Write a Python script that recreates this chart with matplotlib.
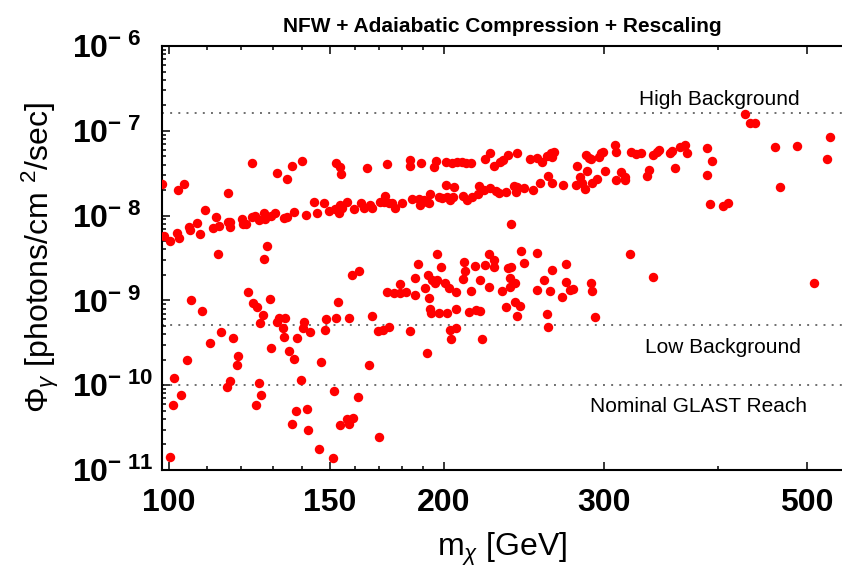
import matplotlib
matplotlib.use("Agg")
import matplotlib.pyplot as plt
from matplotlib.ticker import NullFormatter, LogLocator

plt.rcParams["font.family"] = ["Liberation Sans", "DejaVu Sans"]
plt.rcParams["mathtext.fontset"] = "custom"
plt.rcParams["mathtext.rm"] = "Liberation Sans"
plt.rcParams["mathtext.it"] = "Liberation Sans:italic"
plt.rcParams["mathtext.bf"] = "Liberation Sans:bold"

# ----------------------------
# Data: neutralino mass [GeV] and flux [photons/cm^2/sec]
# ----------------------------
# light models, upper branch + main band (m < 175 GeV)
m_light = [98.2, 102.2, 103.9, 116.0, 123.2, 131.4, 134.6, 136.2, 140.0, 152.4, 153.8, 154.3, 164.6, 173.5,
           98.6, 100.1, 102.0, 102.4, 105.0, 105.4, 107.3, 108.1, 109.5, 111.8, 112.6, 113.3, 115.9, 116.5,
           116.7, 120.1, 120.5, 121.5, 123.2, 124.2, 125.3, 126.9, 127.5, 129.3, 130.7, 133.5, 134.6, 137.1,
           141.3, 144.3, 145.2, 147.7, 149.6, 152.1, 153.4, 153.8, 154.7, 156.7, 159.3, 162.1, 163.4, 166.2,
           166.9, 170.4, 172.3, 174.0,
           113.2, 128.0, 127.1]
phi_light = [2.34e-8, 2.00e-8, 2.34e-8, 1.86e-8, 4.14e-8, 3.21e-8, 2.68e-8, 3.85e-8, 4.41e-8, 4.14e-8, 3.77e-8,
             3.10e-8, 3.61e-8, 4.09e-8,
             5.75e-9, 5.06e-9, 6.18e-9, 5.40e-9, 7.28e-9, 6.76e-9, 8.11e-9, 6.07e-9, 1.16e-8, 7.08e-9, 9.55e-9,
             7.54e-9, 8.34e-9, 7.40e-9, 8.48e-9, 9.04e-9, 7.96e-9, 7.89e-9, 9.55e-9, 9.89e-9, 8.87e-9, 1.06e-8,
             9.04e-9, 9.89e-9, 1.06e-8, 9.29e-9, 9.70e-9, 1.11e-8, 1.02e-8, 1.44e-8, 1.06e-8, 1.42e-8, 1.14e-8,
             1.19e-8, 1.06e-8, 1.33e-8, 1.22e-8, 1.46e-8, 1.19e-8, 1.40e-8, 1.22e-8, 1.33e-8, 1.22e-8, 1.46e-8,
             1.70e-8, 1.40e-8,
             3.52e-9, 4.42e-9, 3.05e-9]

# heavy models, upper branch + main band (m > 170 GeV)
m_heavy = [183.8, 183.5, 188.8, 196.3, 195.3, 201.2, 204.3, 206.9, 209.5, 211.8, 214.0, 222.2, 224.6, 226.9,
           230.3, 232.3, 235.0, 240.7, 248.5, 253.2, 256.4, 259.7, 261.9, 264.5, 263.0, 279.7, 286.1, 288.5,
           290.3, 295.9, 297.2, 299.2, 308.1, 308.7,
           171.8, 175.6, 177.0, 180.0, 184.6, 187.7, 188.5, 190.1, 191.8, 193.0, 192.6, 197.5, 199.2, 200.9,
           201.8, 203.4, 204.8, 205.5, 210.0, 212.2, 214.8, 217.9, 218.5, 221.3, 224.6, 228.4, 229.7, 234.3,
           238.7, 239.8, 240.7, 245.2, 250.4, 254.7, 260.1, 263.0, 270.4, 279.0, 282.0, 283.8, 285.4, 286.9,
           291.0, 294.2, 300.2, 308.7, 312.6, 237.2,
           315.8, 315.9, 321.2, 324.7, 329.4, 333.9, 335.8, 339.2, 342.9, 344.3, 353.7, 356.1, 358.2, 362.7,
           367.3, 369.9, 389.0, 393.9, 389.0, 391.6, 404.6, 410.2, 427.8, 432.9, 438.5, 461.2, 488.4, 467.1,
           530.0, 526.1, 509.1, 320.1, 338.8]
phi_heavy = [4.53e-8, 3.88e-8, 4.14e-8, 4.41e-8, 3.71e-8, 4.29e-8, 4.21e-8, 4.32e-8, 4.32e-8, 4.21e-8, 4.14e-8,
             4.69e-8, 5.43e-8, 3.88e-8, 4.32e-8, 4.53e-8, 5.19e-8, 5.52e-8, 4.65e-8, 4.74e-8, 4.32e-8, 5.04e-8,
             5.43e-8, 5.67e-8, 4.95e-8, 3.88e-8, 5.19e-8, 4.74e-8, 4.61e-8, 4.95e-8, 5.43e-8, 5.67e-8, 6.80e-8,
             5.67e-8,
             1.46e-8, 1.40e-8, 1.22e-8, 1.40e-8, 1.57e-8, 1.56e-8, 1.33e-8, 1.53e-8, 1.46e-8, 1.80e-8, 1.40e-8,
             1.67e-8, 1.60e-8, 2.30e-8, 1.67e-8, 1.53e-8, 1.67e-8, 2.16e-8, 1.72e-8, 1.53e-8, 1.64e-8, 1.78e-8,
             2.23e-8, 2.00e-8, 2.10e-8, 1.97e-8, 1.83e-8, 1.91e-8, 2.23e-8, 1.91e-8, 2.19e-8, 2.10e-8, 2.00e-8,
             2.40e-8, 2.93e-8, 2.40e-8, 2.30e-8, 2.28e-8, 2.88e-8, 2.40e-8, 2.04e-8, 3.39e-8, 2.44e-8, 2.68e-8,
             3.39e-8, 2.63e-8, 3.30e-8, 7.96e-9,
             2.83e-8, 2.63e-8, 5.67e-8, 5.32e-8, 5.43e-8, 2.93e-8, 3.45e-8, 5.19e-8, 5.67e-8, 5.94e-8, 5.43e-8,
             5.78e-8, 3.61e-8, 6.50e-8, 6.80e-8, 5.52e-8, 6.22e-8, 4.44e-8, 2.99e-8, 1.36e-8, 1.31e-8, 1.40e-8,
             1.58e-7, 1.23e-7, 1.23e-7, 6.44e-8, 6.62e-8, 2.19e-8, 8.51e-8, 4.69e-8, 1.60e-9, 3.52e-9, 1.89e-9]

# scattered low-flux cloud, 170-295 GeV
m_cloud = [171.6, 174.0, 183.5, 191.8, 173.4, 176.3, 178.9, 179.2, 181.8, 185.8, 185.8, 187.5, 190.6, 192.2,
           192.6, 193.0, 193.7, 194.1, 195.8, 196.6, 196.8, 198.5, 197.6, 200.5, 201.8, 202.5, 203.4, 203.9,
           206.5, 206.5, 206.5, 209.8, 210.7, 210.9, 213.4, 214.3, 216.7, 216.5, 219.0, 219.2, 220.5, 222.2,
           224.0, 224.4, 226.9, 227.3, 231.7, 233.9, 235.3, 236.6, 237.0, 236.6, 239.3, 239.5, 240.9, 242.3,
           243.3, 245.2, 252.9, 253.2, 257.4, 261.4, 263.0, 259.7, 260.3, 269.8, 272.5, 272.1, 275.0, 277.1,
           290.3, 291.0, 292.8]
phi_cloud = [4.48e-10, 4.82e-10, 4.36e-10, 2.38e-10, 1.27e-9, 1.23e-9, 1.21e-9, 1.56e-9, 1.27e-9, 1.16e-9,
             1.85e-9, 2.67e-9, 1.41e-9, 2.00e-9, 1.08e-9, 7.92e-10, 7.16e-10, 1.74e-9, 1.59e-9, 1.74e-9,
             3.52e-9, 2.50e-9, 7.16e-10, 1.59e-9, 7.05e-10, 1.39e-9, 4.48e-10, 3.51e-10, 7.85e-10, 1.27e-9,
             4.77e-10, 1.79e-9, 2.84e-9, 2.22e-9, 7.36e-10, 1.30e-9, 7.71e-10, 2.55e-9, 7.60e-10, 1.74e-9,
             3.48e-10, 2.62e-9, 3.50e-9, 1.45e-9, 2.99e-9, 2.50e-9, 1.29e-9, 8.36e-10, 2.43e-9, 1.43e-9,
             2.45e-9, 1.82e-9, 1.62e-9, 9.66e-10, 6.60e-10, 8.59e-10, 3.83e-9, 2.74e-9, 3.66e-9, 1.33e-9,
             1.74e-9, 1.30e-9, 2.29e-9, 6.91e-10, 4.82e-10, 1.11e-9, 2.67e-9, 1.66e-9, 1.33e-9, 1.35e-9,
             1.62e-9, 1.30e-9, 6.43e-10]

# scattered low-flux points, 100-170 GeV
m_scatter = [122.0, 123.5, 124.8, 129.1, 126.6, 125.9, 105.7, 108.6, 114.0, 117.6,
             110.9, 104.7, 119.1, 118.7, 129.3, 131.3, 132.1, 134.1, 133.3, 133.5,
             135.4, 137.1, 138.1, 140.2, 140.7, 142.6, 139.6, 146.8, 148.7, 148.3,
             152.5, 153.1, 157.3, 158.8, 161.5, 166.9, 169.2, 165.5, 101.3, 116.7,
             115.7, 125.6, 126.2, 124.6, 103.1, 100.9, 151.5, 161.1, 137.9, 141.6,
             142.0, 136.5, 156.7, 158.9, 157.3, 154.1, 145.8, 151.4, 100.1, 169.9]
phi_scatter = [1.25e-9, 9.40e-10, 8.43e-10, 1.03e-9, 6.73e-10, 5.46e-10, 1.01e-9, 7.50e-10, 4.21e-10, 3.63e-10,
               3.12e-10, 1.98e-10, 2.21e-10, 1.73e-10, 2.77e-10, 5.61e-10, 6.15e-10, 6.25e-10, 4.77e-10, 3.67e-10,
               2.53e-10, 2.02e-10, 3.57e-10, 4.77e-10, 5.52e-10, 4.21e-10, 1.15e-10, 1.86e-10, 6.04e-10, 4.48e-10,
               6.15e-10, 9.66e-10, 6.25e-10, 1.98e-9, 2.22e-9, 6.55e-10, 4.36e-10, 1.73e-10, 1.23e-10, 1.13e-10,
               9.60e-11, 1.05e-10, 7.67e-11, 5.84e-11, 7.73e-11, 5.89e-11, 8.55e-11, 7.31e-11, 4.92e-11, 5.24e-11,
               2.94e-11, 3.46e-11, 4.00e-11, 4.14e-11, 3.46e-11, 3.40e-11, 1.78e-11, 1.37e-11, 1.42e-11, 2.43e-11]

# reference flux levels
levels = [1.62e-7, 5.1e-10, 1.0e-10]
level_labels = ["High Background", "Low Background", "Nominal GLAST Reach"]

x_major = [100, 150, 200, 300, 500]
x_minor = [110, 120, 130, 140, 160, 170, 180, 190, 400]
y_major = [1e-11, 1e-10, 1e-9, 1e-8, 1e-7, 1e-6]
y_exps = ["11", "10", "9", "8", "7", "6"]

# ----------------------------
# Plot
# ----------------------------
fig = plt.figure(figsize=(8.42, 5.70), dpi=100)
ax = fig.add_axes([162 / 842, 100 / 570, 681 / 842, 424 / 570])
ax.set_xscale("log")
ax.set_yscale("log")

for xs, ys in [(m_light, phi_light), (m_heavy, phi_heavy), (m_cloud, phi_cloud), (m_scatter, phi_scatter)]:
    ax.plot(xs, ys, linestyle="none", marker="o", markersize=6.8, color="#ff0000",
            markeredgewidth=0, zorder=3)

for lev in levels:
    ax.axhline(lev, color="#6e6e6e", linestyle=(0, (1, 3.2)), linewidth=1.4, zorder=1)

ax.text(401.5, 2.0e-7, level_labels[0], fontsize=15, ha="center", va="baseline")
ax.text(405.0, 2.37e-10, level_labels[1], fontsize=15, ha="center", va="baseline")
ax.text(380.2, 4.77e-11, level_labels[2], fontsize=15, ha="center", va="baseline")

ax.set_xlim(98.2, 548)
ax.set_ylim(1e-11, 1e-6)

ax.set_xticks(x_major, labels=[str(v) for v in x_major])
ax.set_xticks(x_minor, minor=True)
ax.xaxis.set_minor_formatter(NullFormatter())
ax.set_yticks(y_major, labels=[r"$\mathbf{10}^{\mathbf{-\ %s}}$" % e for e in y_exps])
ax.yaxis.set_minor_locator(LogLocator(base=10, subs=range(2, 10), numticks=20))
ax.yaxis.set_minor_formatter(NullFormatter())

ax.tick_params(which="both", direction="in", top=True, right=False, width=1.1)
ax.tick_params(which="major", length=6)
ax.tick_params(which="minor", length=3)
ax.tick_params(axis="x", which="major", labelsize=23, pad=13)
ax.tick_params(axis="y", which="major", labelsize=23, pad=65)
for lab in ax.get_xticklabels():
    lab.set_fontweight("bold")
for lab in ax.get_yticklabels():
    lab.set_ha("left")

for side in ["left", "bottom", "top"]:
    ax.spines[side].set_linewidth(1.5)
ax.spines["right"].set_visible(False)

ax.set_xlabel(r"m$_\chi$ [GeV]", fontsize=23, labelpad=9)
ax.set_ylabel(r"$\Phi_\gamma$ [photons/cm $^2$/sec]", fontsize=23, labelpad=8)
ax.set_title("NFW + Adaiabatic Compression + Rescaling", fontsize=15, fontweight="bold", pad=10)

plt.savefig("out.png", dpi=100)
plt.close()
